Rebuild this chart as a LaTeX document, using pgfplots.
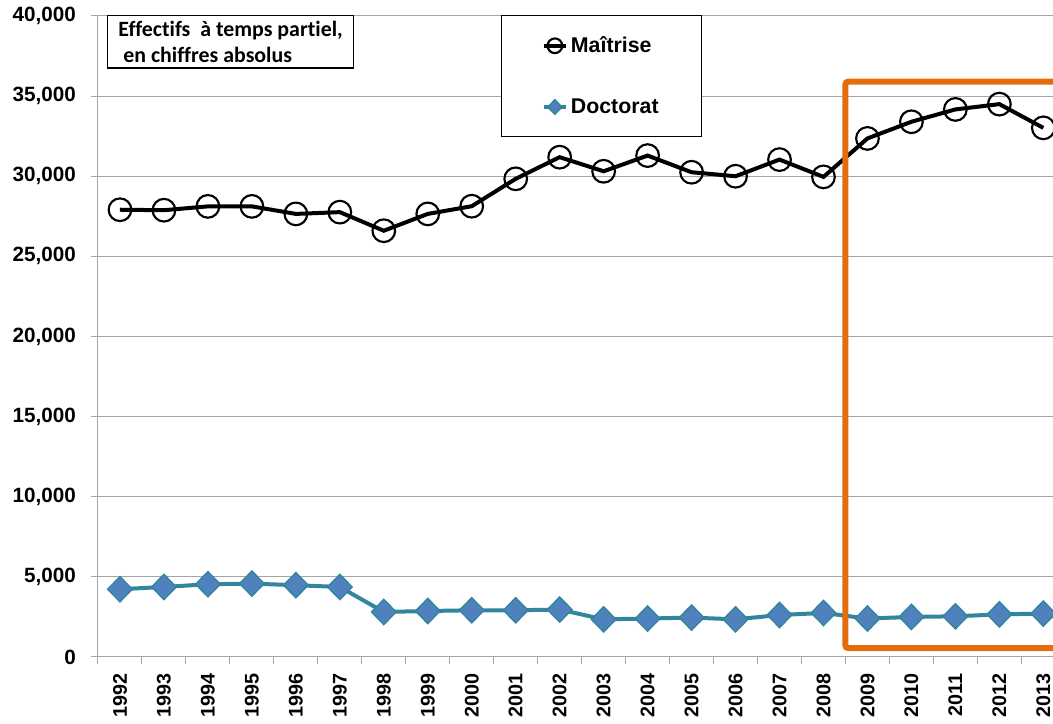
\documentclass[border=0pt]{standalone}
\usepackage{pgfplots}
\pgfplotsset{compat=1.18}
\usepackage{fontspec}
\setmainfont{Liberation Sans}
\newfontfamily\calibri[Ligatures={NoCommon}]{Carlito}
\definecolor{doccol}{RGB}{49,133,156}
\definecolor{docfill}{RGB}{79,129,189}
\definecolor{orangebox}{RGB}{228,108,10}
\definecolor{gridgray}{RGB}{165,165,165}
\begin{document}
\begin{tikzpicture}
\path[use as bounding box] (-73.5pt,-50.25pt) rectangle (716.25pt,492.75pt);
\begin{axis}[
  at={(0pt,0pt)}, anchor=south west,
  scale only axis, width=716.25pt, height=480.75pt,
  xmin=1991.5, xmax=2013.22, ymin=0, ymax=40000,
  axis lines*=left,
  axis line style={gridgray, line width=0.75pt},
  ytick={0,5000,...,40000},
  ymajorgrids, grid style={gridgray, line width=0.75pt},
  xtick={1991.5,1992.5,...,2013.5}, xticklabels={},
  extra x ticks={1992,1993,...,2013},
  extra x tick style={major tick length=0pt, grid=none},
  tick align=outside, major tick length=5pt,
  tick style={gridgray, line width=0.75pt},
  /pgf/number format/assume math mode=true,
  x tick label style={rotate=90, anchor=east, /pgf/number format/1000 sep={}, font=\fontsize{14.8}{16}\selectfont\bfseries, xshift=-9pt},
  y tick label style={/pgf/number format/1000 sep={,}, font=\fontsize{15.5}{17}\selectfont\bfseries, xshift=-8pt},
  scaled y ticks=false,
  legend style={at={(0.422,1.0016)}, anchor=north west, draw=black, line width=0.75pt,
    inner xsep=30pt, inner ysep=14pt, row sep=29pt,
    font=\fontsize{16}{19}\selectfont\bfseries, legend cell align=left},
  legend image post style={mark size=5.5pt},
]
\addplot[black, line width=3pt, mark=o, mark size=8.5pt, mark options={line width=1.6pt, solid}] coordinates {
(1992,27910) (1993,27880) (1994,28120) (1995,28120) (1996,27650) (1997,27760)
(1998,26600) (1999,27650) (2000,28130) (2001,29840) (2002,31190) (2003,30310)
(2004,31290) (2005,30250) (2006,30000) (2007,31040) (2008,29960) (2009,32360)
(2010,33400) (2011,34170) (2012,34500) (2013,33020)};
\addlegendentry{Maîtrise}
\addplot[doccol, line width=3pt, mark=diamond*, mark size=9.5pt, mark options={fill=docfill, draw=doccol, line width=1pt, xscale=1.3, solid}] coordinates {
(1992,4230) (1993,4370) (1994,4540) (1995,4580) (1996,4480) (1997,4370)
(1998,2810) (1999,2870) (2000,2915) (2001,2915) (2002,2960) (2003,2350)
(2004,2400) (2005,2460) (2006,2350) (2007,2620) (2008,2750) (2009,2400)
(2010,2500) (2011,2540) (2012,2660) (2013,2710)};
\addlegendentry{Doctorat}
\draw[orangebox, line width=4.5pt, rounded corners=2pt] (axis cs:2008.5,560) rectangle (axis cs:2014.5,35900);
\end{axis}
\node[draw=black, line width=1.1pt, fill=white, anchor=north west, align=left, inner xsep=8pt, inner ysep=4pt, font=\calibri\bfseries\fontsize{16.4}{19.5}\selectfont] at (6.75pt,481.5pt) {Effectifs\ \ à temps partiel,\\\ en chiffres absolus};
\end{tikzpicture}
\end{document}
